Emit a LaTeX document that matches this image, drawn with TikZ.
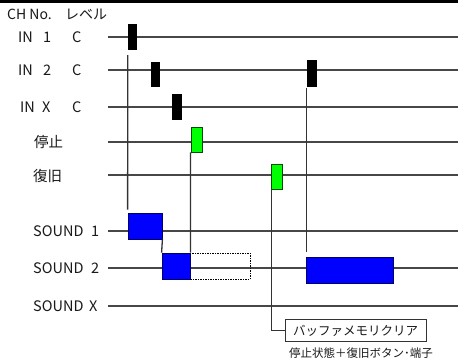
\documentclass[tikz,border=0pt]{standalone}
\usepackage{fontspec}
\setmainfont{Noto Sans CJK JP}
\usetikzlibrary{calc}
\begin{document}
\begin{tikzpicture}[x=1pt,y=-1pt,
  lbl/.style={anchor=west, inner sep=0pt, text=black!90, font=\fontsize{14.5}{15}\selectfont},
  hlbl/.style={anchor=west, inner sep=0pt, text=black!90, font=\fontsize{14}{15}\selectfont},
  tline/.style={draw=black!72, line width=1.2pt},
  vline/.style={draw=black!80, line width=1.3pt},
  kbar/.style={draw=black, fill=black, inner sep=0pt},
  gbar/.style={draw=green!30!black, fill=green, inner sep=0pt, line width=0.8pt},
  bbox/.style={draw=blue!40!black, fill=blue, inner sep=0pt, line width=0.8pt},
  dbox/.style={draw=black, dashed, dash pattern=on 1.5pt off 1pt, inner sep=0pt, line width=0.8pt},
  bufbox/.style={draw=black!80, line width=1pt, inner sep=0pt, text=black!90, font=\fontsize{12.5}{13}\selectfont},
  note/.style={inner sep=0pt, text=black!90, font=\fontsize{11.5}{12}\selectfont}
]
\useasboundingbox (0,0) rectangle (458,362);
\fill[white] (0,0) rectangle (458,362);
% top rule
\coordinate (tl) at (0,1.5);
\coordinate (tr) at (458,1.5);
\draw[black, line width=2.2pt] (tl) -- (tr);

% header
\node[hlbl] (hch) at (7,14) {CH No.};
\node[hlbl] (hlv) at (65,14) {レベル};

% row labels
\node[lbl] (in1a) at (18,37) {IN};
\node[lbl] (in1b) at (43,37) {1};
\node[lbl] (in1c) at (72,37) {C};
\node[lbl] (in2a) at (18,70) {IN};
\node[lbl] (in2b) at (43,70) {2};
\node[lbl] (in2c) at (72,70) {C};
\node[lbl] (inxa) at (20,107) {IN};
\node[lbl] (inxb) at (42,107) {X};
\node[lbl] (inxc) at (72,107) {C};
\node[lbl] (stop) at (34,142) {停止};
\node[lbl] (rec) at (33,176) {復旧};
\node[lbl] (snd1) at (33,231) {SOUND};
\node[lbl] (snd1n) at (91,231) {1};
\node[lbl] (snd2) at (33,268) {SOUND};
\node[lbl] (snd2n) at (91,268) {2};
\node[lbl] (sndx) at (33,306) {SOUND};
\node[lbl] (sndxn) at (89,306) {X};

% time lines
\foreach \n/\yy in {a/37,b/70,c/107,d/142,e/175,f/231,g/268,h/306}{
  \coordinate (s\n) at (108,\yy);
  \coordinate (e\n) at (458,\yy);
  \draw[tline] (s\n) -- (e\n);
}

% pulses
\node[kbar, minimum width=8pt, minimum height=25pt] (b1) at (132,36.5) {};
\node[kbar, minimum width=8pt, minimum height=24pt] (b2) at (155,74) {};
\node[kbar, minimum width=9pt, minimum height=25pt] (b3) at (176.5,106.5) {};
\node[kbar, minimum width=9pt, minimum height=26pt] (b4) at (311.5,73) {};
\node[gbar, minimum width=11pt, minimum height=25pt] (g1) at (196.5,139.5) {};
\node[gbar, minimum width=11pt, minimum height=25pt] (g2) at (276.5,176.5) {};

% sound boxes
\node[dbox, minimum width=60pt, minimum height=26pt] (dsh) at (220,266) {};
\node[bbox, minimum width=34pt, minimum height=26pt] (s1) at (145,226) {};
\node[bbox, minimum width=28pt, minimum height=26pt] (s2) at (176,266) {};
\node[bbox, minimum width=87pt, minimum height=26pt] (s3) at (349.5,270) {};

% buffer clear box
\node[bufbox, minimum width=141pt, minimum height=22pt] (buf) at (355.5,330.5) {バッファメモリクリア};
\node[note] (bufnote) at (361,353) {停止状態＋復旧ボタン･端子};

% connectors
\draw[vline] ([yshift=-6pt]b1.south west) -- ([yshift=3pt]s1.north west);
\draw[vline] (g1.south west) -- (s2.north east);
\draw[vline] (s1.south east) -- (s2.north west);
\draw[vline] ($(b4.south west)+(0,2)$) -- ($(b4.south west |- s3.north)+(0,-5)$);
\draw[vline] ([xshift=1pt]g2.south west) |- (buf.west);
\end{tikzpicture}
\end{document}
